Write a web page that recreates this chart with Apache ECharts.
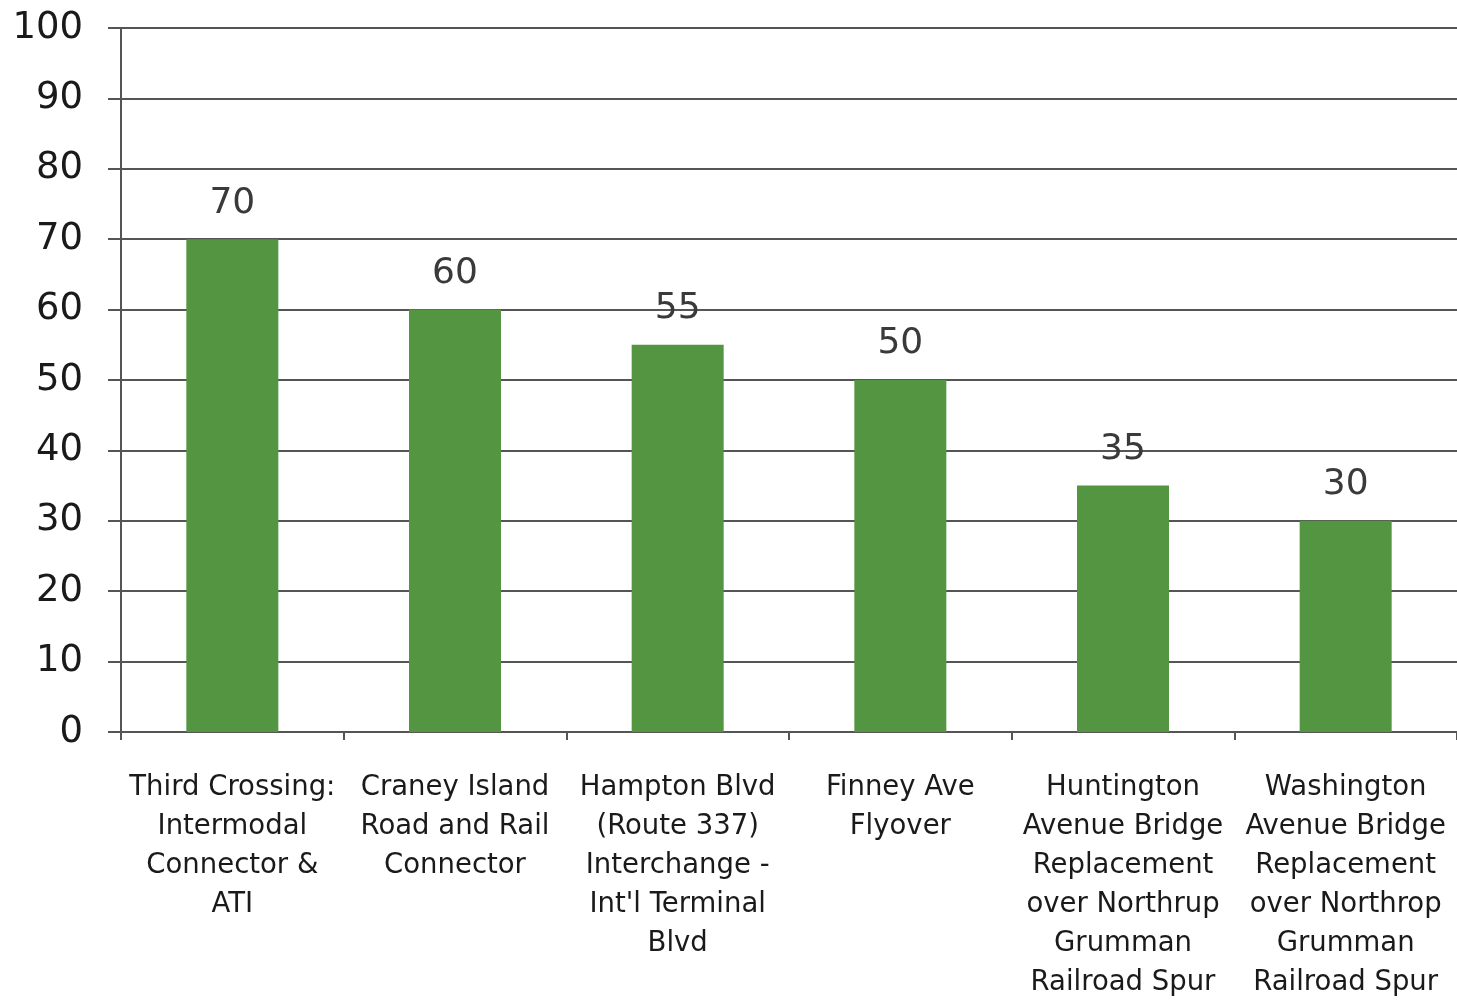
<!DOCTYPE html>
<html><head><meta charset="utf-8">
<script src="https://cdn.jsdelivr.net/npm/echarts@6/dist/echarts.min.js"></script>
<style>html,body{margin:0;padding:0;background:#fff;}#c{width:1457px;height:1002px;}</style>
</head><body><div id="c"></div>
<script>
const categories = [
  "Third Crossing:\nIntermodal\nConnector &\nATI",
  "Craney Island\nRoad and Rail\nConnector",
  "Hampton Blvd\n(Route 337)\nInterchange -\nInt'l Terminal\nBlvd",
  "Finney Ave\nFlyover",
  "Huntington\nAvenue Bridge\nReplacement\nover Northrup\nGrumman\nRailroad Spur",
  "Washington\nAvenue Bridge\nReplacement\nover Northrop\nGrumman\nRailroad Spur"
];
const values = [70, 60, 55, 50, 35, 30];
const yTicks = { min: 0, max: 100, interval: 10 };

const FONT = "'DejaVu Sans', sans-serif";
const chart = echarts.init(document.getElementById('c'));
chart.setOption({
  animation: false,
  grid: { left: 121, right: 0, top: 28, bottom: 264, containLabel: false },
  xAxis: {
    type: 'category',
    data: categories,
    axisLine: { show: true, lineStyle: { color: '#555', width: 2 } },
    axisTick: { show: true, length: 8, lineStyle: { color: '#555', width: 2 }, alignWithLabel: false },
    axisLabel: { interval: 0, margin: 36, color: '#1a1a1a', fontFamily: FONT, fontSize: 27.5, lineHeight: 39 },
    splitLine: { show: false }
  },
  yAxis: {
    type: 'value',
    min: yTicks.min, max: yTicks.max, interval: yTicks.interval,
    axisLine: { show: true, lineStyle: { color: '#555', width: 2 } },
    axisTick: { show: true, inside: false, length: 13, lineStyle: { color: '#555', width: 2 } },
    axisLabel: { color: '#1a1a1a', fontFamily: FONT, fontSize: 37, margin: 38 },
    splitLine: { show: true, lineStyle: { color: '#555', width: 2 } }
  },
  series: [{
    type: 'bar',
    data: values,
    barWidth: 92,
    itemStyle: { color: '#539540' },
    label: { show: true, position: 'top', distance: 18, color: '#3a3a3a', fontFamily: FONT, fontSize: 36 }
  }]
});
</script></body></html>
